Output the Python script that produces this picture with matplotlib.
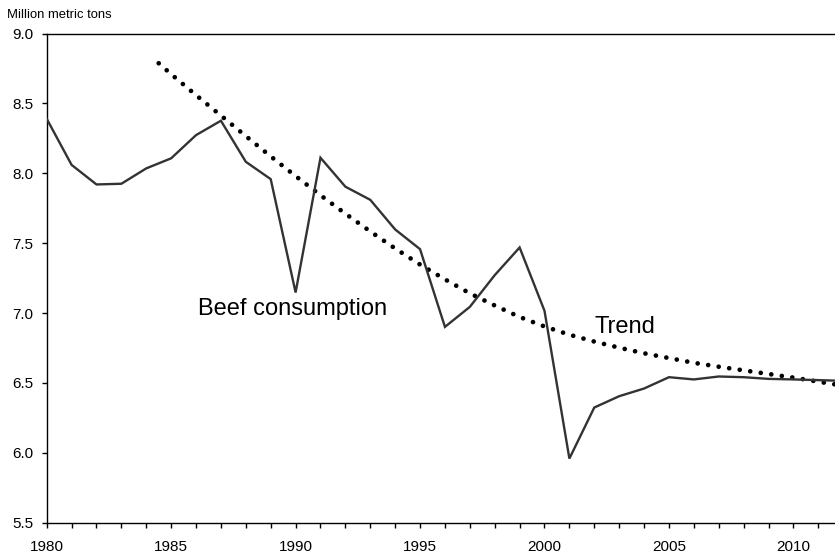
import matplotlib
matplotlib.use("Agg")
import matplotlib.pyplot as plt

# ---- data ----
years = list(range(1980, 2013))
beef = [8.39, 8.06, 7.92, 7.925, 8.035, 8.107, 8.273, 8.376, 8.082, 7.958,
        7.147, 8.111, 7.904, 7.81, 7.598, 7.457, 6.901, 7.044, 7.271, 7.469,
        7.016, 5.959, 6.324, 6.405, 6.46, 6.541, 6.525, 6.546, 6.541, 6.529,
        6.525, 6.52, 6.515]

trend_years = [1984.5, 1985, 1986, 1987, 1988, 1989, 1990, 1991, 1992, 1993,
               1994, 1995, 1996, 1997, 1998, 1999, 2000, 2001, 2002, 2003,
               2004, 2005, 2006, 2007, 2008, 2009, 2010, 2011, 2012]
trend = [8.787, 8.709, 8.559, 8.413, 8.266, 8.121, 7.980, 7.843, 7.711, 7.584,
         7.462, 7.347, 7.241, 7.141, 7.054, 6.972, 6.904, 6.845, 6.796, 6.752,
         6.712, 6.678, 6.644, 6.616, 6.590, 6.564, 6.538, 6.509, 6.48]

x_ticks = list(range(1980, 2013))
x_ticklabels = [str(y) if y % 5 == 0 else "" for y in x_ticks]
y_ticks = [5.5, 6.0, 6.5, 7.0, 7.5, 8.0, 8.5, 9.0]
y_ticklabels = ["5.5", "6.0", "6.5", "7.0", "7.5", "8.0", "8.5", "9.0"]

plt.rcParams['font.family'] = ['Liberation Sans', 'DejaVu Sans']

W, H = 835, 555
fig = plt.figure(figsize=(W / 100, H / 100), dpi=100)
left_px, right_px, top_px, bottom_px = 46.7, 46.7 + 32 * 24.89, 33.5, 522.7
ax = fig.add_axes([left_px / W, 1 - bottom_px / H,
                   (right_px - left_px) / W, (bottom_px - top_px) / H])

ax.plot(years, beef, color='#333333', lw=1.7, solid_joinstyle='miter', zorder=3)
ax.plot(trend_years, trend, color='black', lw=3.4,
        linestyle=(0, (0.001, 2.25)), dash_capstyle='round', zorder=2)

ax.set_xlim(1980, 2012)
ax.set_ylim(5.5, 9.0)

ax.set_xticks(x_ticks)
ax.set_xticklabels(x_ticklabels)
ax.set_yticks(y_ticks)
ax.set_yticklabels(y_ticklabels)
ax.tick_params(axis='x', direction='out', length=3.6, width=1.0, pad=8.5,
               labelsize=11, colors='black')
ax.tick_params(axis='y', direction='out', length=3.6, width=1.0, pad=6,
               labelsize=11, colors='black')

for s in ax.spines.values():
    s.set_linewidth(1.0)
    s.set_color('black')

ax.text(1986.09, 6.985, "Beef consumption", fontsize=17, ha='left',
        va='baseline', color='black')
ax.text(2002.0, 6.858, "Trend", fontsize=17, ha='left', va='baseline',
        color='black')

fig.text(7 / W, 1 - 18.3 / H, "Million metric tons", fontsize=9.4,
         ha='left', va='baseline', color='black')

fig.savefig("out.png", dpi=100)
